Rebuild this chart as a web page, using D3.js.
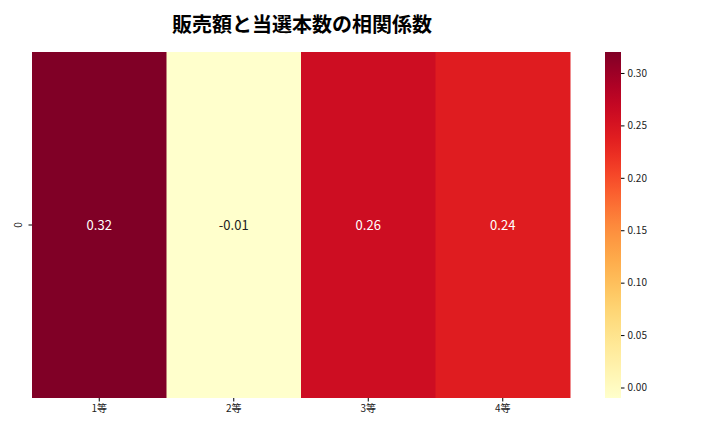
<!DOCTYPE html>
<html><head><meta charset="utf-8">
<script src="https://cdn.jsdelivr.net/npm/d3@7"></script>
<style>body{margin:0;background:#fff}text{font-family:"Noto Sans CJK JP","Noto Sans",sans-serif}</style>
</head><body><svg width="720" height="432"></svg>
<script>
const categories = ["1等", "2等", "3等", "4等"];
const rows = ["0"];
const values = [0.32, -0.01, 0.26, 0.24];
const cbarTicks = [0.00, 0.05, 0.10, 0.15, 0.20, 0.25, 0.30];
const title = "販売額と当選本数の相関係数";

const svg = d3.select("svg");
const mLeft = 32, mRight = 570, mTop = 52, mBottom = 398;
const x = d3.scaleBand().domain(categories).range([mLeft, mRight]);
const y = d3.scaleBand().domain(rows).range([mTop, mBottom]);
const vmin = d3.min(values), vmax = d3.max(values);
const color = d3.scaleSequential(d3.interpolateYlOrRd).domain([vmin, vmax]);

svg.append("text").attr("x", 302).attr("y", 32).attr("text-anchor", "middle")
  .attr("font-size", 20).attr("font-weight", "bold").text(title);

svg.selectAll(".cell").data(values).enter().append("rect")
  .attr("x", (d, i) => x(categories[i])).attr("y", y("0"))
  .attr("width", x.bandwidth() + 0.5).attr("height", y.bandwidth())
  .attr("fill", d => color(d));

svg.selectAll(".lab").data(values).enter().append("text")
  .attr("x", (d, i) => x(categories[i]) + x.bandwidth() / 2)
  .attr("y", y("0") + y.bandwidth() / 2).attr("dy", "0.35em")
  .attr("text-anchor", "middle").attr("font-size", 13)
  .attr("fill", d => (d - vmin) / (vmax - vmin) > 0.5 ? "#fff" : "#222")
  .text(d => d.toFixed(2));

const xa = svg.append("g").attr("transform", `translate(0,${mBottom})`)
  .call(d3.axisBottom(x).tickSize(3.5));
xa.select(".domain").remove();
xa.selectAll("text").attr("font-size", 10).attr("fill", "#222");

const ya = svg.append("g").attr("transform", `translate(${mLeft},0)`)
  .call(d3.axisLeft(y).tickSize(3.5).tickFormat(""));
ya.select(".domain").remove();
rows.forEach(r => {
  const cy0 = y(r) + y.bandwidth() / 2;
  svg.append("text").attr("transform", `translate(${mLeft - 10},${cy0}) rotate(-90)`)
    .attr("text-anchor", "middle").attr("font-size", 10).attr("fill", "#222").text(r);
});

// colorbar
const cbx = 605, cbw = 16;
const cy = d3.scaleLinear().domain([vmin, vmax]).range([mBottom, mTop]);
const grad = svg.append("defs").append("linearGradient").attr("id", "g")
  .attr("x1", 0).attr("y1", 1).attr("x2", 0).attr("y2", 0);
d3.range(0, 1.01, 0.05).forEach(t => grad.append("stop").attr("offset", t)
  .attr("stop-color", color(vmin + t * (vmax - vmin))));
svg.append("rect").attr("x", cbx).attr("y", mTop).attr("width", cbw)
  .attr("height", mBottom - mTop).attr("fill", "url(#g)");
const ca = svg.append("g").attr("transform", `translate(${cbx + cbw},0)`)
  .call(d3.axisRight(cy).tickValues(cbarTicks).tickFormat(d3.format(".2f")).tickSize(3.5));
ca.select(".domain").remove();
ca.selectAll("text").attr("font-size", 10).attr("fill", "#222");
</script></body></html>
